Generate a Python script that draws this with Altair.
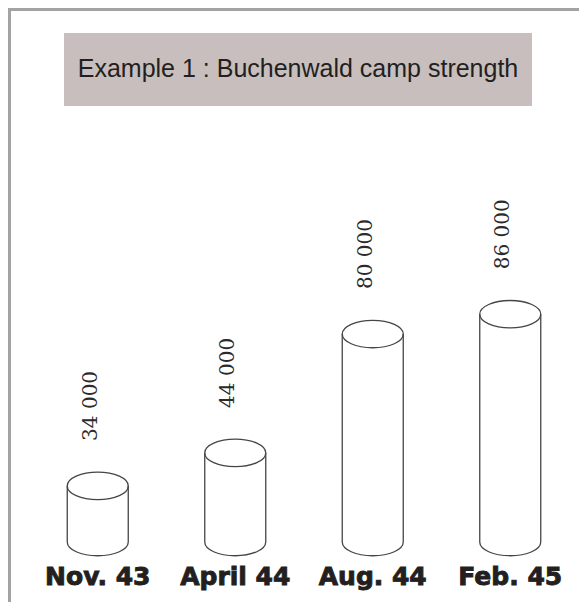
import altair as alt
import pandas as pd

# ---- data ----
MONTHS = ["Nov. 43", "April 44", "Aug. 44", "Feb. 45"]
STRENGTH = [34000, 44000, 80000, 86000]
LABELS = ["34 000", "44 000", "80 000", "86 000"]
TITLE = ["Example 1 : Buchenwald camp strength"]

df = pd.DataFrame({"month": MONTHS, "strength": STRENGTH, "label": LABELS})
title_df = pd.DataFrame({"title": TITLE})

# ---- layout / style ----
W, H = 550, 406
PAD = {"left": 21, "top": 128, "right": 0, "bottom": 60}
Y_MIN, Y_MAX = 17000, 140000
CYL_W = 61
STROKE = "#454545"
SW = 1.3
DARK = "#231f20"

ELLIPSE = ("M-1,0C-1,-0.25,-0.552,-0.45,0,-0.45C0.552,-0.45,1,-0.25,1,0"
           "C1,0.25,0.552,0.45,0,0.45C-0.552,0.45,-1,0.25,-1,0Z")
HALF = "M-1,0C-1,0.25,-0.552,0.45,0,0.45C0.552,0.45,1,0.25,1,0"

x = alt.X("month:N", sort=MONTHS, scale=alt.Scale(type="point", padding=0.5), axis=None)
y = alt.Y("strength:Q", scale=alt.Scale(domain=[Y_MIN, Y_MAX], nice=False, zero=False), axis=None)

base = alt.Chart(df)

left_side = base.mark_rule(xOffset=-CYL_W / 2, stroke=STROKE, strokeWidth=SW).encode(
    x=x, y=y, y2=alt.value(H))
right_side = base.mark_rule(xOffset=CYL_W / 2, stroke=STROKE, strokeWidth=SW).encode(
    x=x, y=y, y2=alt.value(H))
top_ell = base.mark_point(shape=ELLIPSE, size=CYL_W ** 2, filled=False, stroke=STROKE,
                          strokeWidth=SW, opacity=1).encode(x=x, y=y)
bottom_ell = base.mark_point(shape=HALF, size=CYL_W ** 2, filled=False, stroke=STROKE,
                             strokeWidth=SW, opacity=1).encode(x=x, y=alt.value(H))
values = base.mark_text(angle=270, align="left", baseline="middle", dx=45, dy=-7,
                        font="DejaVu Serif", fontSize=20, color="#2b2b2b").encode(
    x=x, y=y, text="label:N")
month_labels = base.mark_text(font="DejaVu Sans", fontWeight="bold", fontSize=25,
                              color=DARK, stroke=DARK, strokeWidth=0.9,
                              align="center", baseline="alphabetic").encode(
    x=x, y=alt.value(H + 43), text="month:N")

tbase = alt.Chart(title_df)
title_box = tbase.mark_rect(color="#c8bebd").encode(
    x=alt.value(35), x2=alt.value(503), y=alt.value(-103), y2=alt.value(-30))
title_txt = tbase.mark_text(font="Liberation Sans", fontSize=25, color=DARK,
                            align="center", baseline="middle").encode(
    x=alt.value(269), y=alt.value(-67), text="title:N")
frame_top = tbase.mark_rule(color="#a3a3a3", strokeWidth=3).encode(
    x=alt.value(-21), x2=alt.value(W + PAD["right"]), y=alt.value(-126.5))
frame_left = tbase.mark_rule(color="#a3a3a3", strokeWidth=3).encode(
    x=alt.value(-19.5), y=alt.value(-128), y2=alt.value(H + PAD["bottom"]))

chart = alt.layer(
    frame_top, frame_left, title_box, title_txt,
    left_side, right_side, top_ell, bottom_ell, values, month_labels,
).properties(
    width=W, height=H,
    padding=PAD,
    autosize="none",
).configure_view(stroke=None)

chart.save("out.html", embed_options={"renderer": "svg", "actions": False})
